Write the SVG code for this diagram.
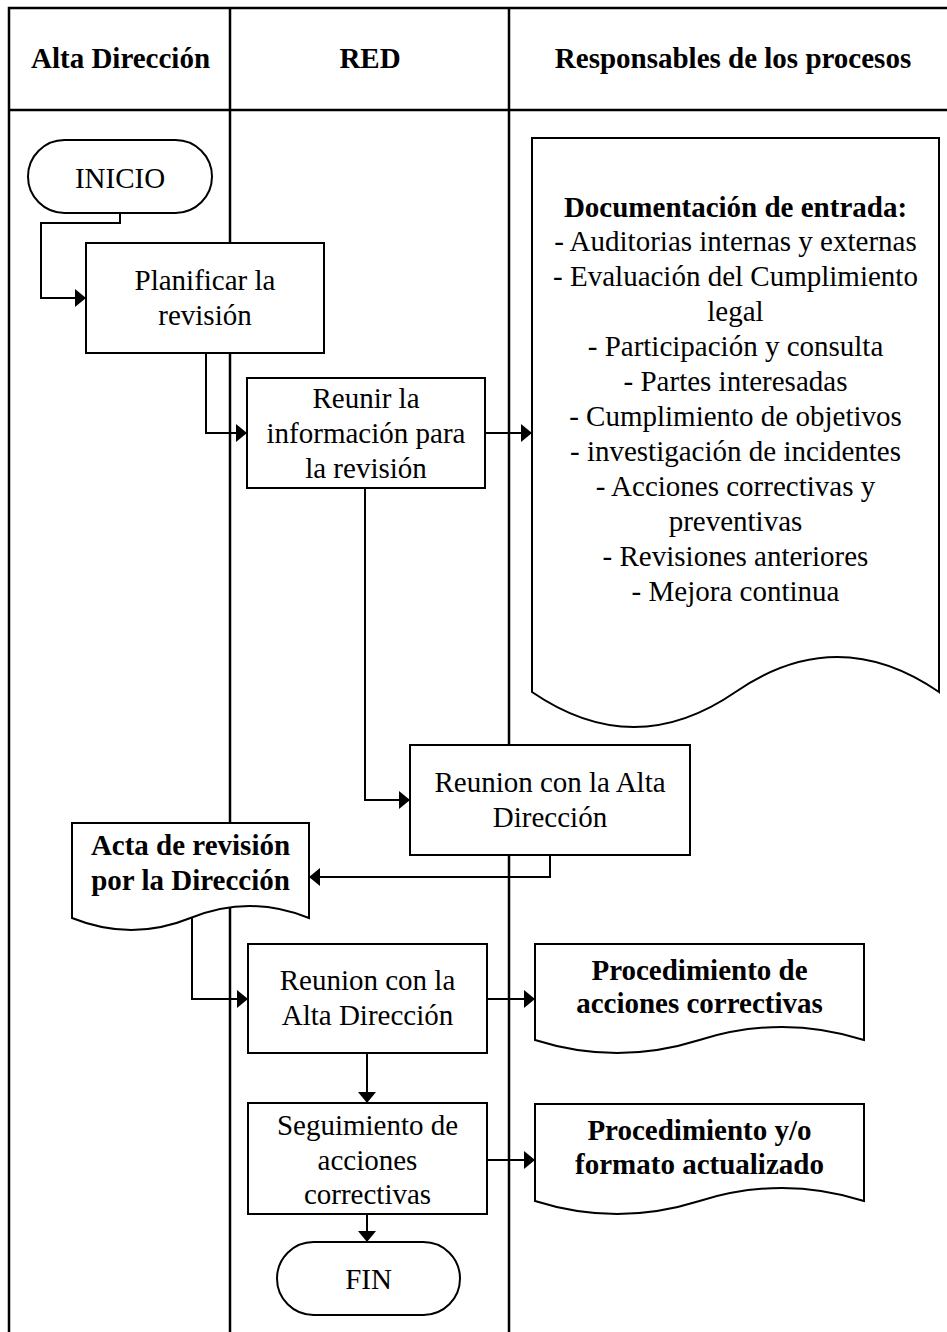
<svg xmlns="http://www.w3.org/2000/svg" width="947" height="1332" viewBox="0 0 947 1332">
<style>
.tbl{fill:none;stroke:#000;stroke-width:2.5}
.shape{fill:#fff;stroke:#000;stroke-width:2}
.conn{fill:none;stroke:#000;stroke-width:2;marker-end:url(#arr)}
.t{font-family:"Liberation Serif","Times New Roman",serif;font-size:29px;text-anchor:middle;fill:#000}
.b{font-weight:bold}
</style>
<defs>
<marker id="arr" markerUnits="userSpaceOnUse" markerWidth="12" markerHeight="19" refX="11" refY="9.5" orient="auto">
<path d="M0,0.5 L11,9.5 L0,18.5 Z" fill="#000"/>
</marker>
</defs>
<rect width="947" height="1332" fill="#fff"/>
<g id="table">
<path class="tbl" d="M9,1332 V8 H947 M9,110 H947 M230,8 V1332 M509,8 V1332"/>
<text class="t b" x="120.5" y="68">Alta Dirección</text>
<text class="t b" x="370" y="68">RED</text>
<text class="t b" x="733" y="68">Responsables de los procesos</text>
</g>
<g id="inicio">
<rect class="shape" x="28" y="140" width="184" height="73" rx="36.5"/>
<text class="t" x="120" y="188">INICIO</text>
</g>
<g id="planificar">
<rect class="shape" x="86" y="243" width="238" height="110"/>
<text class="t" x="205" y="290">Planificar la</text>
<text class="t" x="205" y="325">revisión</text>
</g>
<g id="reunir">
<rect class="shape" x="247" y="378" width="238" height="110"/>
<text class="t" x="366" y="408">Reunir la</text>
<text class="t" x="366" y="443">información para</text>
<text class="t" x="366" y="478">la revisión</text>
</g>
<g id="documentacion">
<path class="shape" d="M532,692 V138 H939 V692 Q837,622 735.5,692 T532,692 Z"/>
<text class="t b" x="735.5" y="217">Documentación de entrada:</text>
<text class="t" x="735.5" y="251">- Auditorias internas y externas</text>
<text class="t" x="735.5" y="286">- Evaluación del Cumplimiento</text>
<text class="t" x="735.5" y="321">legal</text>
<text class="t" x="735.5" y="356">- Participación y consulta</text>
<text class="t" x="735.5" y="391">- Partes interesadas</text>
<text class="t" x="735.5" y="426">- Cumplimiento de objetivos</text>
<text class="t" x="735.5" y="461">- investigación de incidentes</text>
<text class="t" x="735.5" y="496">- Acciones correctivas y</text>
<text class="t" x="735.5" y="531">preventivas</text>
<text class="t" x="735.5" y="566">- Revisiones anteriores</text>
<text class="t" x="735.5" y="601">- Mejora continua</text>
</g>
<g id="reunion1">
<rect class="shape" x="410" y="745" width="280" height="110"/>
<text class="t" x="550" y="792">Reunion con la Alta</text>
<text class="t" x="550" y="827">Dirección</text>
</g>
<g id="acta">
<path class="shape" d="M72,918 V823 H309 V918 Q249.5,894 190.5,918 T72,918 Z"/>
<text class="t b" x="190.5" y="855">Acta de revisión</text>
<text class="t b" x="190.5" y="890">por la Dirección</text>
</g>
<g id="reunion2">
<rect class="shape" x="248" y="944" width="239" height="109"/>
<text class="t" x="367.5" y="990">Reunion con la</text>
<text class="t" x="367.5" y="1025">Alta Dirección</text>
</g>
<g id="proc1">
<path class="shape" d="M535,1040 V944 H864 V1040 Q782,1014 699.5,1040 T535,1040 Z"/>
<text class="t b" x="699.5" y="980">Procedimiento de</text>
<text class="t b" x="699.5" y="1013">acciones correctivas</text>
</g>
<g id="seguimiento">
<rect class="shape" x="248" y="1103" width="239" height="111"/>
<text class="t" x="367.5" y="1135">Seguimiento de</text>
<text class="t" x="367.5" y="1170">acciones</text>
<text class="t" x="367.5" y="1204">correctivas</text>
</g>
<g id="proc2">
<path class="shape" d="M535,1201 V1104 H864 V1201 Q782,1175 699.5,1201 T535,1201 Z"/>
<text class="t b" x="699.5" y="1140">Procedimiento y/o</text>
<text class="t b" x="699.5" y="1174">formato actualizado</text>
</g>
<g id="fin">
<rect class="shape" x="277" y="1242" width="183" height="73" rx="36.5"/>
<text class="t" x="368.5" y="1289">FIN</text>
</g>
<g id="connectors">
<path class="conn" d="M120,213 V223 H41 V298 H86"/>
<path class="conn" d="M206,353 V433 H247"/>
<path class="conn" d="M485,433 H532"/>
<path class="conn" d="M365,488 V800 H410"/>
<path class="conn" d="M550,855 V877 H309"/>
<path class="conn" d="M192,918 V999 H248"/>
<path class="conn" d="M487,999 H535"/>
<path class="conn" d="M367,1053 V1103"/>
<path class="conn" d="M487,1160 H535"/>
<path class="conn" d="M367,1214 V1242"/>
</g>
</svg>
